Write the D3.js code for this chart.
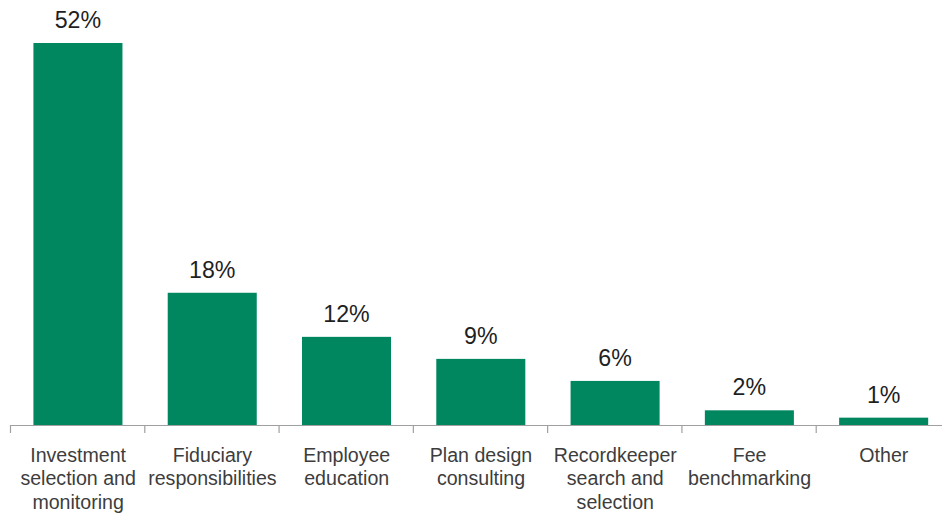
<!DOCTYPE html>
<html>
<head>
<meta charset="utf-8">
<script src="https://cdn.jsdelivr.net/npm/d3@7"></script>
<style>
  html, body { margin: 0; padding: 0; background: #fff; }
  svg { display: block; }
</style>
</head>
<body>
<svg id="chart" width="942" height="514"></svg>
<script>
// Categories (each entry holds the lines of its axis label)
const categories = [
  ["Investment", "selection and", "monitoring"],
  ["Fiduciary", "responsibilities"],
  ["Employee", "education"],
  ["Plan design", "consulting"],
  ["Recordkeeper", "search and", "selection"],
  ["Fee", "benchmarking"],
  ["Other"]
];
const values = [52, 18, 12, 9, 6, 2, 1];
const valueLabels = ["52%", "18%", "12%", "9%", "6%", "2%", "1%"];

const svg = d3.select("#chart");
const margin = { left: 10, right: -8, top: 0, baseline: 425 };
const width = 942;

const keys = categories.map((c, i) => i);
const x = d3.scaleBand()
  .domain(keys)
  .range([margin.left, width - margin.right])
  .paddingInner(0.337)
  .paddingOuter(0.1685)
  .align(0.5);

// Band boundaries for tick marks
const step = x.step();
const x0 = x(0) - x.paddingOuter() * step;

const y = d3.scaleLinear()
  .domain([0, 52])
  .range([margin.baseline, 43]);

// Bars
svg.append("g")
  .selectAll("rect")
  .data(values)
  .join("rect")
  .attr("x", (d, i) => x(i) + 0.8)
  .attr("y", d => y(d))
  .attr("width", x.bandwidth())
  .attr("height", d => y(0) - y(d))
  .attr("fill", "#00875f");

// Value labels
svg.append("g")
  .selectAll("text")
  .data(values)
  .join("text")
  .attr("x", (d, i) => x(i) + 0.8 + x.bandwidth() / 2)
  .attr("y", d => y(d) - 15)
  .attr("text-anchor", "middle")
  .attr("font-family", "Liberation Sans, Arial, sans-serif")
  .attr("font-size", 23.2)
  .attr("fill", "#1f1f1f")
  .text((d, i) => valueLabels[i]);

// Axis line and tick marks between categories
const axis = svg.append("g").attr("stroke", "#a0a0a0").attr("stroke-width", 1.2);
axis.append("line")
  .attr("x1", x0).attr("x2", width)
  .attr("y1", y(0) + 0.5).attr("y2", y(0) + 0.5);
axis.selectAll("line.tick")
  .data(d3.range(categories.length))
  .join("line")
  .attr("class", "tick")
  .attr("x1", i => x0 + i * step + 0.5)
  .attr("x2", i => x0 + i * step + 0.5)
  .attr("y1", y(0))
  .attr("y2", y(0) + 8);

// Category labels
const labels = svg.append("g")
  .selectAll("text")
  .data(categories)
  .join("text")
  .attr("x", (d, i) => x(i) + x.bandwidth() / 2)
  .attr("y", 462)
  .attr("text-anchor", "middle")
  .attr("font-family", "Liberation Sans, Arial, sans-serif")
  .attr("font-size", 19.6)
  .attr("fill", "#3d3d3d");
labels.each(function(lines, i) {
  const t = d3.select(this);
  lines.forEach((line, j) => {
    t.append("tspan")
      .attr("x", x(i) + 1 + x.bandwidth() / 2)
      .attr("dy", j === 0 ? 0 : 23.3)
      .text(line);
  });
});
</script>
</body>
</html>
